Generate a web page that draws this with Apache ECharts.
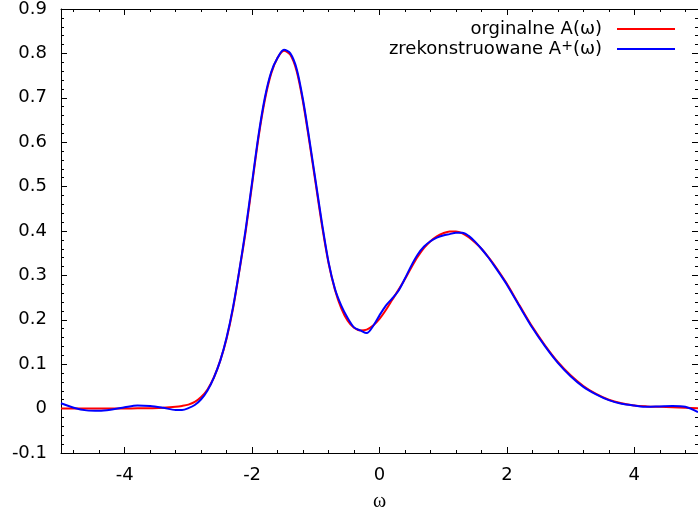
<!DOCTYPE html>
<html>
<head>
<meta charset="utf-8">
<script src="https://cdn.jsdelivr.net/npm/echarts@6/dist/echarts.min.js"></script>
<style>
html,body{margin:0;padding:0;background:#fff;}
#chart{width:698px;height:519px;}
</style>
</head>
<body>
<div id="chart"></div>
<script>
// ---- data ----
const omega = [-5.0,-4.8,-4.6,-4.4,-4.2,-4.0,-3.8,-3.6,-3.4,-3.2,
  -3.1,-3.0,-2.9,-2.8,-2.7,-2.6,-2.5,-2.4,-2.3,-2.2,-2.1,-2.0,-1.9,-1.8,-1.7,-1.6,-1.5,-1.4,-1.3,-1.2,-1.1,-1.0,
  -0.9,-0.8,-0.7,-0.6,-0.5,-0.4,-0.3,-0.2,-0.1,0.0,0.1,0.2,0.3,0.4,0.5,0.6,0.7,0.8,0.9,1.0,1.1,1.2,1.3,1.4,1.5,
  1.6,1.7,1.8,1.9,2.0,
  2.2,2.4,2.6,2.8,3.0,3.2,3.4,3.6,3.8,4.0,4.2,4.4,4.6,4.8,5.0];

const original = [0,0,0,0,0,0,0.001,0.001,0.002,0.004,
  0.006,0.009,0.015,0.026,0.043,0.07,0.108,0.158,0.225,0.31,0.40,0.505,0.61,0.695,0.755,0.79,0.806,0.797,0.76,0.69,0.60,0.505,
  0.41,0.328,0.268,0.226,0.198,0.182,0.176,0.178,0.187,0.202,0.222,0.245,0.268,0.292,0.318,0.342,0.362,0.377,0.388,0.395,0.399,0.399,0.395,0.386,0.374,
  0.36,0.343,0.324,0.303,0.281,
  0.232,0.184,0.142,0.105,0.075,0.051,0.033,0.02,0.012,0.007,0.005,0.004,0.003,0.002,0.001];

const reconstructed = [0.012,0.002,-0.004,-0.005,-0.002,0.003,0.007,0.006,0.002,-0.003,
  -0.003,0.001,0.008,0.021,0.041,0.07,0.108,0.16,0.228,0.312,0.405,0.51,0.615,0.70,0.758,0.79,0.808,0.80,0.765,0.695,0.605,0.51,
  0.415,0.33,0.27,0.232,0.204,0.183,0.176,0.17,0.186,0.21,0.232,0.248,0.266,0.293,0.322,0.347,0.365,0.377,0.385,0.39,0.393,0.396,0.396,0.389,0.376,
  0.36,0.342,0.322,0.301,0.279,
  0.23,0.182,0.14,0.103,0.073,0.049,0.032,0.019,0.011,0.007,0.004,0.005,0.006,0.004,-0.008];

const xMajorTicks = [-4,-2,0,2,4];
const xMinorTicks = [-4.8,-4.4,-3.6,-3.2,-2.8,-2.4,-1.6,-1.2,-0.8,-0.4,0.4,0.8,1.2,1.6,2.4,2.8,3.2,3.6,4.4,4.8];
const seriesNames = ['orginalne A(ω)', 'zrekonstruowane A+(ω)'];
const xName = 'ω';

// ---- chart ----
const FONT = '"DejaVu Sans", "Liberation Sans", sans-serif';
const FS = 18;
const chart = echarts.init(document.getElementById('chart'), null, {renderer: 'canvas'});
const pairs = (ys) => omega.map((x, i) => [x, ys[i]]);

function xAx(pos, ticks, len, showLine, showLabel) {
  return {
    type: 'value', position: pos, min: -5, max: 5,
    name: (pos === 'bottom' && showLabel) ? xName : '',
    nameLocation: 'middle', nameGap: 39,
    nameTextStyle: {fontFamily: '"Liberation Serif", "DejaVu Serif", serif', fontSize: 20, color: '#000'},
    axisLine: {show: showLine, onZero: false, lineStyle: {color: '#000', width: 1}},
    axisTick: {show: true, inside: true, length: len, customValues: ticks, lineStyle: {color: '#000', width: 1}},
    axisLabel: {show: showLabel, customValues: ticks, margin: 13, fontFamily: FONT, fontSize: FS, color: '#000'},
    splitLine: {show: false}, minorTick: {show: false}
  };
}
function yAx(pos, showLabel) {
  return {
    type: 'value', position: pos, min: -0.1, max: 0.9, interval: 0.1,
    axisLine: {show: true, onZero: false, lineStyle: {color: '#000', width: 1}},
    axisTick: {show: true, inside: true, length: 6, lineStyle: {color: '#000', width: 1}},
    minorTick: {show: true, splitNumber: 5, length: 3, lineStyle: {color: '#000', width: 1}},
    axisLabel: {show: showLabel, margin: 14, fontFamily: FONT, fontSize: FS, color: '#000',
      formatter: (v) => String(Math.round(v * 10) / 10)},
    splitLine: {show: false}
  };
}

const legendBase = {
  orient: 'vertical', align: 'right', right: 23, padding: 0,
  itemWidth: 58, itemHeight: 2, icon: 'rect',
  formatter: (name) => name.replace('A+', 'A{s|+}'),
  textStyle: {fontFamily: FONT, fontSize: FS, color: '#000', lineHeight: 20, padding: [0, 10, 0, 0],
    rich: {s: {fontFamily: FONT, fontSize: 14, lineHeight: 10, verticalAlign: 'top', color: '#000'}}}
};

chart.setOption({
  animation: false,
  backgroundColor: '#fff',
  grid: {left: 61, top: 9, right: -3, bottom: 66, containLabel: false},
  xAxis: [
    xAx('bottom', xMajorTicks, 6, true, true),
    xAx('top', xMajorTicks, 6, true, false),
    xAx('bottom', xMinorTicks, 3, false, false),
    xAx('top', xMinorTicks, 3, false, false)
  ],
  yAxis: [yAx('left', true), yAx('right', false)],
  legend: [
    Object.assign({}, legendBase, {top: 19, data: [seriesNames[0]]}),
    Object.assign({}, legendBase, {top: 39, data: [seriesNames[1]]})
  ],
  series: [
    {name: seriesNames[0], type: 'line', data: pairs(original), showSymbol: false, smooth: 0.3,
      lineStyle: {color: '#ff0000', width: 2}, itemStyle: {color: '#ff0000'}},
    {name: seriesNames[1], type: 'line', data: pairs(reconstructed), showSymbol: false, smooth: 0.3,
      lineStyle: {color: '#0000ff', width: 2}, itemStyle: {color: '#0000ff'}}
  ]
});
</script>
</body>
</html>
